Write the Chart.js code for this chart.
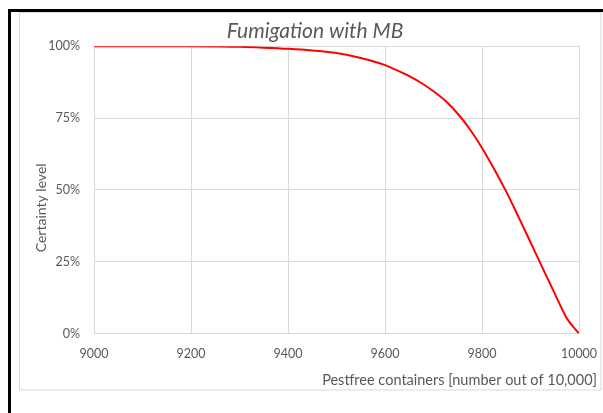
<!DOCTYPE html>
<html><head><meta charset="utf-8">
<script src="https://cdn.jsdelivr.net/npm/chart.js@4"></script>
<style>html,body{margin:0;padding:0;background:#fff;} canvas{display:block}</style>
</head><body>
<canvas id="c" width="603" height="413"></canvas>
<script>
const chartTitle = 'Fumigation with MB';
const xAxisTitle = 'Pestfree containers [number out of 10,000]';
const yAxisTitle = 'Certainty level';
const containers = [9000, 9100, 9200, 9250, 9300, 9350, 9400, 9450, 9500, 9550, 9600, 9625, 9650, 9675, 9700, 9725, 9750, 9775, 9800, 9825, 9850, 9875, 9900, 9925, 9950, 9975, 10000];
const certainty  = [100, 100, 99.97, 99.92, 99.8, 99.5, 99.1, 98.5, 97.6, 95.9, 93.4, 91.6, 89.6, 87.2, 84.3, 80.9, 76.5, 71.1, 64.6, 57.3, 49.4, 40.7, 31.8, 22.8, 13.9, 5.3, 0];
const xTicks = [9000, 9200, 9400, 9600, 9800, 10000];
const yTicks = [0, 25, 50, 75, 100];

const FONT = 'Lato, "Open Sans", sans-serif';
const TXT = '#595959';
const GRID = '#d9d9d9';

const framePlugin = {
  id: 'frame',
  beforeDraw(chart) {
    const ctx = chart.ctx;
    ctx.save();
    ctx.fillStyle = '#fff';
    ctx.fillRect(0, 0, chart.width, chart.height);
    ctx.strokeStyle = GRID;
    ctx.lineWidth = 1;
    ctx.strokeRect(19.5, 12.5, 581.5, 377.5);
    ctx.strokeStyle = '#000';
    ctx.lineWidth = 3;
    ctx.beginPath();
    ctx.moveTo(8, 10.5); ctx.lineTo(chart.width, 10.5);
    ctx.moveTo(9.5, 9); ctx.lineTo(9.5, chart.height);
    ctx.stroke();
    ctx.restore();
  }
};

new Chart(document.getElementById('c'), {
  type: 'line',
  data: {
    datasets: [{
      data: containers.map((x, i) => ({x: x, y: certainty[i]})),
      borderColor: '#ff0000',
      borderWidth: 2,
      pointRadius: 0,
      fill: false,
      cubicInterpolationMode: 'monotone'
    }]
  },
  options: {
    responsive: false,
    devicePixelRatio: 1,
    animation: false,
    layout: { padding: { left: 33, right: 6, top: 12, bottom: 21 } },
    plugins: {
      legend: { display: false },
      tooltip: { enabled: false },
      title: {
        display: true, text: chartTitle, color: TXT,
        font: { family: FONT, size: 21, style: 'italic', weight: 'normal' },
        padding: { top: 7, bottom: 2 }
      },
      subtitle: {
        display: true, text: xAxisTitle, position: 'bottom', align: 'end', color: TXT,
        font: { family: FONT, size: 14.5, weight: 'normal' },
        padding: { top: 0, bottom: 3 }
      }
    },
    scales: {
      x: {
        type: 'linear', min: 9000, max: 10000,
        afterBuildTicks: s => { s.ticks = xTicks.map(v => ({value: v})); },
        afterFit: s => { s.height = 38; },
        grid: { color: GRID, drawTicks: true, tickLength: 13, tickColor: 'rgba(0,0,0,0)' },
        border: { color: GRID },
        ticks: { color: TXT, padding: 0, font: { family: FONT, size: 12.5 }, callback: v => String(v), maxRotation: 0 }
      },
      y: {
        min: 0, max: 100,
        afterBuildTicks: s => { s.ticks = yTicks.map(v => ({value: v})); },
        afterFit: s => { s.width = 61; },
        grid: { color: GRID, drawTicks: false },
        border: { color: GRID },
        title: { display: true, text: yAxisTitle + '\u00A0'.repeat(10), color: TXT, font: { family: FONT, size: 14 }, padding: { top: 0, bottom: 0 } },
        ticks: { color: TXT, padding: 14, font: { family: FONT, size: 12.5 }, callback: v => v + '%' }
      },
      y2: {
        position: 'right', min: 0, max: 100,
        afterFit: s => { s.width = 18; },
        grid: { display: false },
        border: { display: false },
        ticks: { display: false }
      }
    }
  },
  plugins: [framePlugin]
});
</script>
</body></html>
